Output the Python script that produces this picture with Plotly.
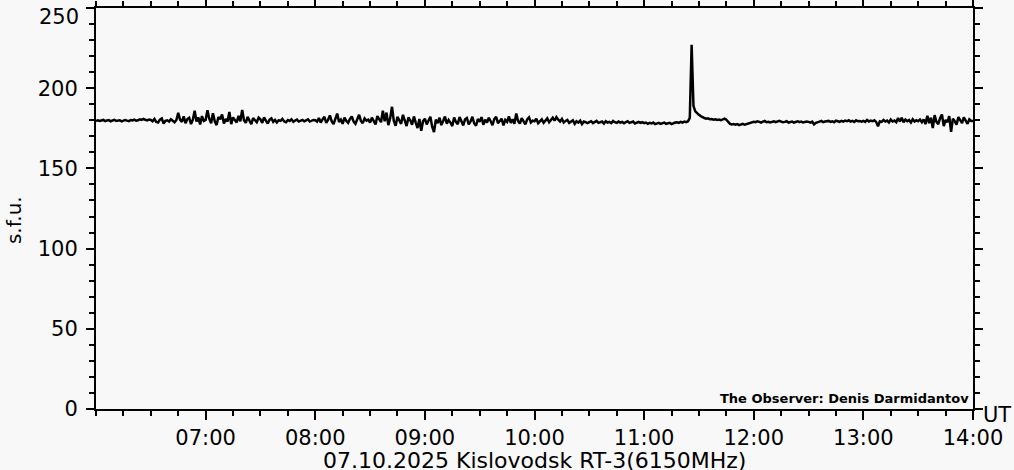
import pandas as pd
import plotly.graph_objects as go

flux_0600 = [179.5, 180.0, 179.6, 179.8, 180.2, 179.5, 179.9, 180.1, 179.4, 179.8,
             180.3, 179.6, 179.9, 180.0, 179.3, 179.7, 180.2, 179.8, 179.5, 180.1,
             179.9, 180.4, 179.7, 180.0, 180.6, 180.2, 180.8, 180.3, 179.9, 180.5]
flux_0630 = [180.2, 179.4, 180.8, 179.0, 178.6, 180.4, 181.2, 178.0, 179.6, 180.0,
             179.2, 180.6, 179.8, 178.8, 180.2, 184.6, 180.4, 179.0, 182.4, 178.2,
             180.8, 181.6, 177.6, 180.4, 186.0, 179.2, 181.8, 177.4, 182.6, 179.6]
flux_0700 = [180.2, 186.2, 181.0, 178.2, 184.4, 179.4, 177.0, 182.0, 180.6, 183.6,
             178.0, 180.8, 179.2, 185.2, 177.6, 181.8, 180.2, 178.6, 182.8, 179.4,
             186.4, 180.0, 178.4, 182.2, 179.8, 177.6, 181.4, 180.2, 178.8, 181.6]
flux_0730 = [180.6, 178.4, 181.8, 179.8, 178.0, 180.4, 181.2, 179.0, 180.2, 178.6,
             180.0, 179.6, 180.8, 179.2, 178.8, 180.2, 179.6, 180.6, 179.0, 179.8,
             180.4, 179.2, 179.8, 180.2, 179.4, 180.0, 180.6, 179.2, 179.8, 180.2]
flux_0800 = [180.0, 179.2, 181.4, 178.6, 180.6, 182.2, 178.4, 180.2, 183.0, 179.4,
             177.6, 181.8, 184.2, 179.0, 180.4, 177.8, 181.6, 179.6, 178.4, 180.8,
             182.4, 179.2, 177.8, 180.6, 183.4, 179.6, 178.2, 181.2, 179.8, 180.4]
flux_0830 = [178.6, 181.6, 179.8, 177.4, 182.6, 180.2, 178.8, 186.0, 179.4, 184.8,
             177.0, 181.2, 188.4, 179.6, 176.6, 182.2, 180.4, 177.8, 183.4, 179.2,
             176.4, 181.8, 180.0, 177.2, 182.4, 178.6, 175.2, 180.8, 173.4, 179.6]
flux_0900 = [181.0, 177.4, 179.8, 182.2, 176.0, 172.6, 180.4, 178.2, 181.6, 177.0,
             179.6, 182.4, 177.8, 180.2, 178.6, 176.4, 181.8, 179.0, 177.6, 182.0,
             179.4, 176.8, 180.6, 181.4, 177.4, 179.2, 182.2, 178.0, 176.6, 180.8]
flux_0930 = [179.0, 182.0, 177.2, 180.4, 178.6, 181.6, 179.4, 177.0, 180.8, 182.2,
             178.2, 179.6, 181.0, 176.8, 180.2, 179.0, 182.4, 178.4, 180.6, 177.8,
             184.2, 179.6, 178.0, 181.4, 179.2, 177.4, 180.6, 181.8, 178.6, 179.8]
flux_1000 = [179.4, 181.0, 178.2, 179.8, 180.6, 178.4, 179.6, 181.2, 178.8, 180.2,
             181.6, 179.8, 182.0, 180.4, 179.2, 180.8, 178.6, 179.6, 180.2, 178.4,
             179.0, 180.0, 177.8, 179.4, 178.6, 179.8, 177.6, 179.2, 178.8, 178.2]
flux_1030 = [178.8, 179.4, 178.2, 179.0, 179.6, 178.4, 178.8, 179.2, 178.0, 179.4,
             178.6, 179.0, 178.2, 179.6, 178.8, 178.4, 179.2, 178.6, 179.0, 178.2,
             178.8, 179.4, 178.4, 178.8, 179.2, 178.0, 178.6, 179.0, 178.4, 178.8]
flux_1100 = [178.2, 178.6, 177.8, 178.4, 178.0, 178.6, 177.6, 178.2, 178.4, 177.8,
             178.2, 178.6, 177.8, 178.0, 178.4, 177.6, 178.2, 178.6, 178.8, 178.4,
             179.0, 178.6, 179.2, 178.8, 179.4, 181.5, 227.0, 189.0, 185.6, 184.2]
flux_1130 = [183.4, 182.6, 181.8, 181.4, 181.0, 181.2, 180.6, 180.8, 180.4, 180.6,
             180.2, 180.4, 180.0, 180.6, 181.0, 180.4, 179.2, 177.8, 177.4, 177.6,
             177.2, 177.6, 177.0, 177.4, 177.8, 177.2, 177.6, 178.0, 178.6, 179.0]
flux_1200 = [179.0, 178.8, 179.4, 179.0, 178.6, 179.2, 179.6, 178.8, 179.0, 178.6,
             179.2, 179.4, 178.8, 179.0, 179.6, 179.2, 178.8, 179.0, 179.4, 178.6,
             179.0, 179.2, 178.6, 179.0, 179.4, 178.8, 179.2, 178.6, 179.0, 179.2]
flux_1230 = [179.0, 178.6, 179.2, 177.4, 178.4, 179.0, 179.2, 179.6, 178.8, 179.2,
             179.4, 179.6, 179.0, 179.4, 178.8, 179.8, 179.4, 179.0, 179.6, 179.2,
             179.8, 179.4, 180.0, 179.2, 179.6, 179.0, 180.0, 179.4, 179.6, 179.2]
flux_1300 = [179.6, 179.0, 180.2, 179.2, 179.8, 179.4, 180.0, 179.0, 176.2, 179.4,
             179.0, 180.2, 179.2, 179.8, 178.6, 180.4, 179.2, 179.8, 178.8, 181.4,
             179.2, 181.6, 178.8, 180.4, 179.4, 180.2, 178.6, 180.6, 179.2, 180.0]
flux_1330 = [179.4, 180.4, 178.8, 180.6, 177.6, 182.8, 178.2, 181.6, 175.2, 183.2,
             179.0, 177.6, 181.4, 183.6, 176.4, 180.2, 178.8, 182.6, 172.8, 181.0,
             179.4, 177.2, 182.0, 179.6, 178.2, 181.8, 180.0, 177.8, 180.6, 179.6]
flux_1400 = [179.6]

flux = (flux_0600 + flux_0630 + flux_0700 + flux_0730 + flux_0800 + flux_0830 +
        flux_0900 + flux_0930 + flux_1000 + flux_1030 + flux_1100 + flux_1130 +
        flux_1200 + flux_1230 + flux_1300 + flux_1330 + flux_1400)

start_time = "2025-10-07 06:00"
end_time = "2025-10-07 14:00"
times = pd.date_range(start_time, periods=len(flux), freq="1min")

x_tick_vals = ["2025-10-07 07:00", "2025-10-07 08:00", "2025-10-07 09:00", "2025-10-07 10:00",
               "2025-10-07 11:00", "2025-10-07 12:00", "2025-10-07 13:00", "2025-10-07 14:00"]
x_tick_text = ["07:00", "08:00", "09:00", "10:00", "11:00", "12:00", "13:00", "14:00"]
y_tick_vals = [0, 50, 100, 150, 200, 250]
y_tick_text = ["0", "50", "100", "150", "200", "250"]

caption = "07.10.2025 Kislovodsk RT-3(6150MHz)"
observer = "The Observer: Denis Darmidantov"

BG = "#f8f8f8"
FONT = "DejaVu Sans"

fig = go.Figure()
fig.add_trace(go.Scatter(x=times, y=flux, mode="lines",
                         line=dict(color="black", width=2.5), showlegend=False))

fig.update_layout(
    width=1014, height=470, autosize=False,
    margin=dict(l=96, r=41, t=8, b=61, autoexpand=False),
    paper_bgcolor=BG, plot_bgcolor=BG,
    font=dict(family=FONT, size=21, color="black"),
)

fig.update_xaxes(
    type="date", range=[start_time, end_time], automargin=False,
    tickmode="array", tickvals=x_tick_vals, ticktext=x_tick_text,
    ticks="outside", ticklen=9, tickwidth=2, tickcolor="black",
    minor=dict(tickmode="linear", tick0=start_time, dtick=15 * 60 * 1000,
               ticks="outside", ticklen=5, tickwidth=2, tickcolor="black"),
    showline=True, linewidth=2, linecolor="black", mirror="ticks",
    showgrid=False, zeroline=False,
    tickfont=dict(family=FONT, size=21),
)
# top label (250) is drawn separately, nudged below the frame edge as in the reference
fig.update_yaxes(
    range=[0, 250], tickmode="array", tickvals=y_tick_vals,
    ticktext=y_tick_text[:-1] + [""], automargin=False,
    ticks="outside", ticklen=8, tickwidth=2, tickcolor="black",
    minor=dict(tickmode="linear", tick0=0, dtick=10,
               ticks="outside", ticklen=5, tickwidth=2, tickcolor="black"),
    showline=True, linewidth=2, linecolor="black", mirror="ticks",
    showgrid=False, zeroline=False,
    tickfont=dict(family=FONT, size=21),
    ticklabelstandoff=4,
)

fig.add_annotation(text=y_tick_text[-1], xref="paper", yref="y", x=0, y=y_tick_vals[-1],
                   xanchor="right", yanchor="top", xshift=-15, yshift=5, showarrow=False,
                   font=dict(family=FONT, size=21))
fig.add_annotation(text=caption, xref="paper", yref="paper", x=0.5, y=-0.128,
                   xanchor="center", yanchor="middle", showarrow=False,
                   font=dict(family=FONT, size=22))
fig.add_annotation(text="UT", xref="paper", yref="paper", x=1.0, y=-0.015,
                   xanchor="left", yanchor="middle", xshift=8, showarrow=False,
                   font=dict(family=FONT, size=21))
fig.add_annotation(text="s.f.u.", xref="paper", yref="paper", x=-0.094, y=0.47,
                   xanchor="center", yanchor="middle", textangle=-90, showarrow=False,
                   font=dict(family=FONT, size=20))
fig.add_annotation(text="<b>" + observer + "</b>", xref="paper", yref="paper", x=1.0, y=0.0,
                   xanchor="right", yanchor="bottom", xshift=-2, yshift=1, showarrow=False,
                   font=dict(family=FONT, size=13))

fig.write_html("out.html", config={"displayModeBar": False},
               post_script="document.body.style.margin='0px';document.body.style.background='#f8f8f8';")
